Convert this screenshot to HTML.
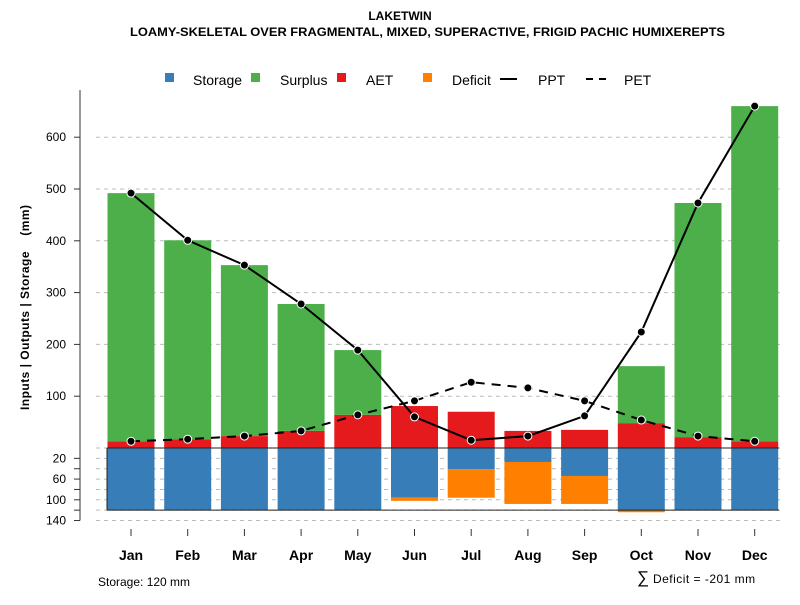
<!DOCTYPE html>
<html><head><meta charset="utf-8"><style>
body{margin:0;background:#fff}
svg{font-family:"Liberation Sans",sans-serif}
</style></head><body>
<svg id="c" width="800" height="600" xmlns="http://www.w3.org/2000/svg">
<text x="400" y="20" text-anchor="middle" font-size="12" font-weight="bold">LAKETWIN</text>
<text x="130" y="36" font-size="12" font-weight="bold" textLength="595" lengthAdjust="spacingAndGlyphs">LOAMY-SKELETAL OVER FRAGMENTAL, MIXED, SUPERACTIVE, FRIGID PACHIC HUMIXEREPTS</text>
<g id="legend" font-size="14">
<rect x="165" y="73" width="9" height="9" fill="#377eb8"/><text x="193" y="85">Storage</text>
<rect x="251" y="73" width="9" height="9" fill="#4daf4a"/><text x="280" y="85">Surplus</text>
<rect x="337" y="73" width="9" height="9" fill="#e41a1c"/><text x="366" y="85">AET</text>
<rect x="423" y="73" width="9" height="9" fill="#ff7f00"/><text x="452" y="85">Deficit</text>
<line x1="500" y1="79" x2="517" y2="79" stroke="#000" stroke-width="2"/><text x="538" y="85">PPT</text>
<line x1="586" y1="79" x2="610" y2="79" stroke="#000" stroke-width="2" stroke-dasharray="7,6"/><text x="624" y="85">PET</text>
</g>
<text transform="translate(29,410) rotate(-90)" font-size="12" font-weight="bold" textLength="205" xml:space="preserve">Inputs | Outputs | Storage    (mm)</text>
<text x="98" y="586" font-size="12">Storage: 120 mm</text>
<text x="637" y="583" font-size="12"><tspan font-size="17">∑</tspan><tspan textLength="106"> Deficit = -201 mm</tspan></text>
<g id="g"></g>
</svg>
<script>
const months=["Jan","Feb","Mar","Apr","May","Jun","Jul","Aug","Sep","Oct","Nov","Dec"];
const ppt=[492,401,353,278,189,60,15,23,62,224,473,660];
const pet=[13,17,23,33,64,91,127,116,91,54,23,13];
const aet=[13,17,23,33,64,81,70,33,35,48,21,13];
const surplus=[479,384,330,245,125,0,0,0,0,110,452,647];
const storage=[120,120,120,120,120,96,41,27,54,120,120,120];
const deficit=[0,0,0,0,0,6,55,81,54,4,0,0];
const upTicks=[100,200,300,400,500,600];
const lowTicks=[20,40,60,80,100,120,140];
const lowLabels=[20,60,100,140];
const NS="http://www.w3.org/2000/svg";
const g=document.getElementById('g');
const Y0=448,K=0.518;
const yU=v=>Y0-v*K, yL=v=>Y0+v*K;
const xC=i=>131+i*56.7, BW=47;
function mk(t,a){const e=document.createElementNS(NS,t);for(const k in a)e.setAttribute(k,a[k]);g.appendChild(e);return e;}
upTicks.forEach(v=>{
 const e=mk('line',{x1:96,x2:780,y1:yU(v),y2:yU(v),stroke:'#bbb','stroke-dasharray':'4,4'});
 
 
 mk('line',{x1:74,x2:80,y1:yU(v),y2:yU(v),stroke:'#333'});
 const t=mk('text',{x:66,y:yU(v)+4,'text-anchor':'end','font-size':12});t.textContent=v;
 
 
});
lowTicks.forEach(v=>{
 const e=mk('line',{x1:96,x2:780,y1:yL(v),y2:yL(v),stroke:'#bbb','stroke-dasharray':'4,4'});
 
 
 mk('line',{x1:74,x2:80,y1:yL(v),y2:yL(v),stroke:'#333'});
});
mk('line',{x1:96,x2:780,y1:Y0,y2:Y0,stroke:'#bbb','stroke-dasharray':'4,4'});
lowLabels.forEach(v=>{const t=mk('text',{x:66,y:yL(v)+4,'text-anchor':'end','font-size':12});t.textContent=v;
 
 });
mk('line',{x1:80,x2:80,y1:90,y2:yL(140),stroke:'#333'});
months.forEach((m,i)=>{
 const x=xC(i)-BW/2;
 let r=mk('rect',{x:x,y:yU(aet[i]),width:BW,height:aet[i]*K,fill:'#e41a1c'});
 
 
 if(surplus[i]>0){r=mk('rect',{x:x,y:yU(aet[i]+surplus[i]),width:BW,height:surplus[i]*K,fill:'#4daf4a'});
 
 }
 r=mk('rect',{x:x,y:Y0,width:BW,height:storage[i]*K,fill:'#377eb8'});
 
 
 if(deficit[i]>0){r=mk('rect',{x:x,y:yL(storage[i]),width:BW,height:deficit[i]*K,fill:'#ff7f00'});
 
 }
 mk('line',{x1:xC(i),x2:xC(i),y1:529,y2:536,stroke:'#333'});
 const t=mk('text',{x:xC(i),y:560,'text-anchor':'middle','font-size':14,'font-weight':'bold'});t.textContent=m;
 
 
});
mk('line',{x1:107,x2:779,y1:Y0,y2:Y0,stroke:'#222'});
mk('line',{x1:107,x2:779,y1:yL(120),y2:yL(120),stroke:'#222'});
mk('line',{x1:107,x2:107,y1:Y0,y2:yL(120),stroke:'#222'});
function line(arr,name,dash){
 const p=mk('polyline',{points:arr.map((v,i)=>xC(i)+','+yU(v)).join(' '),fill:'none',stroke:'#000','stroke-width':2});
 if(dash)p.setAttribute('stroke-dasharray','9,7');
 
 
 arr.forEach((v,i)=>{const c=mk('circle',{cx:xC(i),cy:yU(v),r:4,fill:'#000',stroke:'#fff','stroke-width':1});
 
 });
}
line(pet,'pet',true);
line(ppt,'ppt',false);
</script>
</body></html>
